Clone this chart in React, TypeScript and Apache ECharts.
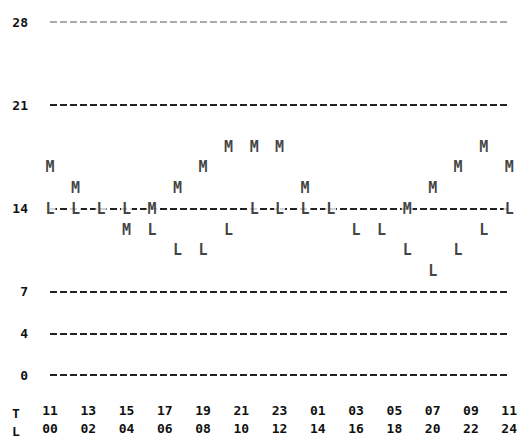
import React, { useEffect, useRef } from "react";
import * as echarts from "echarts";

// Column times (hours) of each printed column
const TIMES = [0, 1.33, 2.67, 4, 5.33, 6.67, 8, 9.33, 10.67, 12, 13.33, 14.67, 16, 17.33, 18.67, 20, 21.33, 22.67, 24];
// Printer row of each "M" mark (null = not visible)
const M_ROWS = [10, 9, null, 7, 8, 9, 10, 11, 11, 11, 9, null, null, null, 8, 9, 10, 11, 10];
// Printer row of each "L" mark
const L_ROWS = [8, 8, 8, 8, 7, 6, 6, 7, 8, 8, 8, 8, 7, 7, 6, 5, 6, 7, 8];
// Row labels (printer row index -> printed scale value)
const ROW_LABELS: Record<number, string> = { 0: "0", 2: "4", 4: "7", 8: "14", 13: "21", 17: "28" };
const DASHED_ROWS = [0, 2, 4, 8, 13, 17];
// Bottom time labels (every 2 hours) and offset top labels
const X_TICKS_BOTTOM = ["00", "02", "04", "06", "08", "10", "12", "14", "16", "18", "20", "22", "24"];
const X_TICKS_TOP = ["11", "13", "15", "17", "19", "21", "23", "01", "03", "05", "07", "09", "11"];

const MONO = "'DejaVu Sans Mono', 'Liberation Mono', monospace";

export default function App() {
  const ref = useRef<HTMLDivElement>(null);
  useEffect(() => {
    document.body.style.margin = "0";
    const chart = echarts.init(ref.current!, undefined, { renderer: "svg" });
    const markSeries = (name: string, rows: (number | null)[]) => ({
      type: "scatter",
      name,
      z: 5,
      symbol: "rect",
      symbolSize: [11, 14],
      itemStyle: { color: "#fff" },
      data: TIMES.map((t, i) => (rows[i] == null ? null : [t, rows[i]])).filter((d) => d),
      label: {
        show: true,
        position: "inside",
        formatter: name,
        color: "#111",
        fontFamily: MONO,
        fontWeight: "bold",
        fontSize: 15,
      },
      emphasis: { disabled: true },
    });
    chart.setOption({
      animation: false,
      backgroundColor: "#fff",
      grid: { left: 50, right: 4, top: 22, bottom: 73 },
      xAxis: {
        type: "value",
        min: 0,
        max: 24,
        interval: 2,
        axisLine: { show: false },
        axisTick: { show: false },
        splitLine: { show: false },
        axisLabel: {
          margin: 26,
          fontFamily: MONO,
          fontSize: 13,
          fontWeight: "bold",
          lineHeight: 18,
          color: "#111",
          formatter: (v: number) => {
            const i = Math.round(v / 2);
            return `${X_TICKS_TOP[i]}\n${X_TICKS_BOTTOM[i]}`;
          },
        },
      },
      yAxis: {
        type: "value",
        min: 0,
        max: 17,
        interval: 1,
        axisLine: { show: false },
        axisTick: { show: false },
        splitLine: { show: false },
        axisLabel: {
          margin: 22,
          fontFamily: MONO,
          fontSize: 13,
          fontWeight: "bold",
          color: "#111",
          formatter: (v: number) => ROW_LABELS[v] ?? "",
        },
      },
      graphic: [
        {
          type: "text",
          left: 12,
          top: 404,
          style: { text: "T\nL", fontFamily: MONO, fontSize: 13, fontWeight: "bold", lineHeight: 18, fill: "#111" },
        },
      ],
      series: [
        {
          type: "line",
          z: 1,
          data: [],
          markLine: {
            silent: true,
            symbol: "none",
            label: { show: false },
            lineStyle: { type: [7, 3], width: 2, color: "#222" },
            data: DASHED_ROWS.map((r) => ({
              yAxis: r,
              lineStyle: r === 17 ? { color: "#aaa", type: [7, 3], width: 2 } : undefined,
            })),
          },
        },
        markSeries("M", M_ROWS),
        markSeries("L", L_ROWS),
      ],
    });
    return () => chart.dispose();
  }, []);
  return <div ref={ref} style={{ width: 520, height: 448 }} />;
}
